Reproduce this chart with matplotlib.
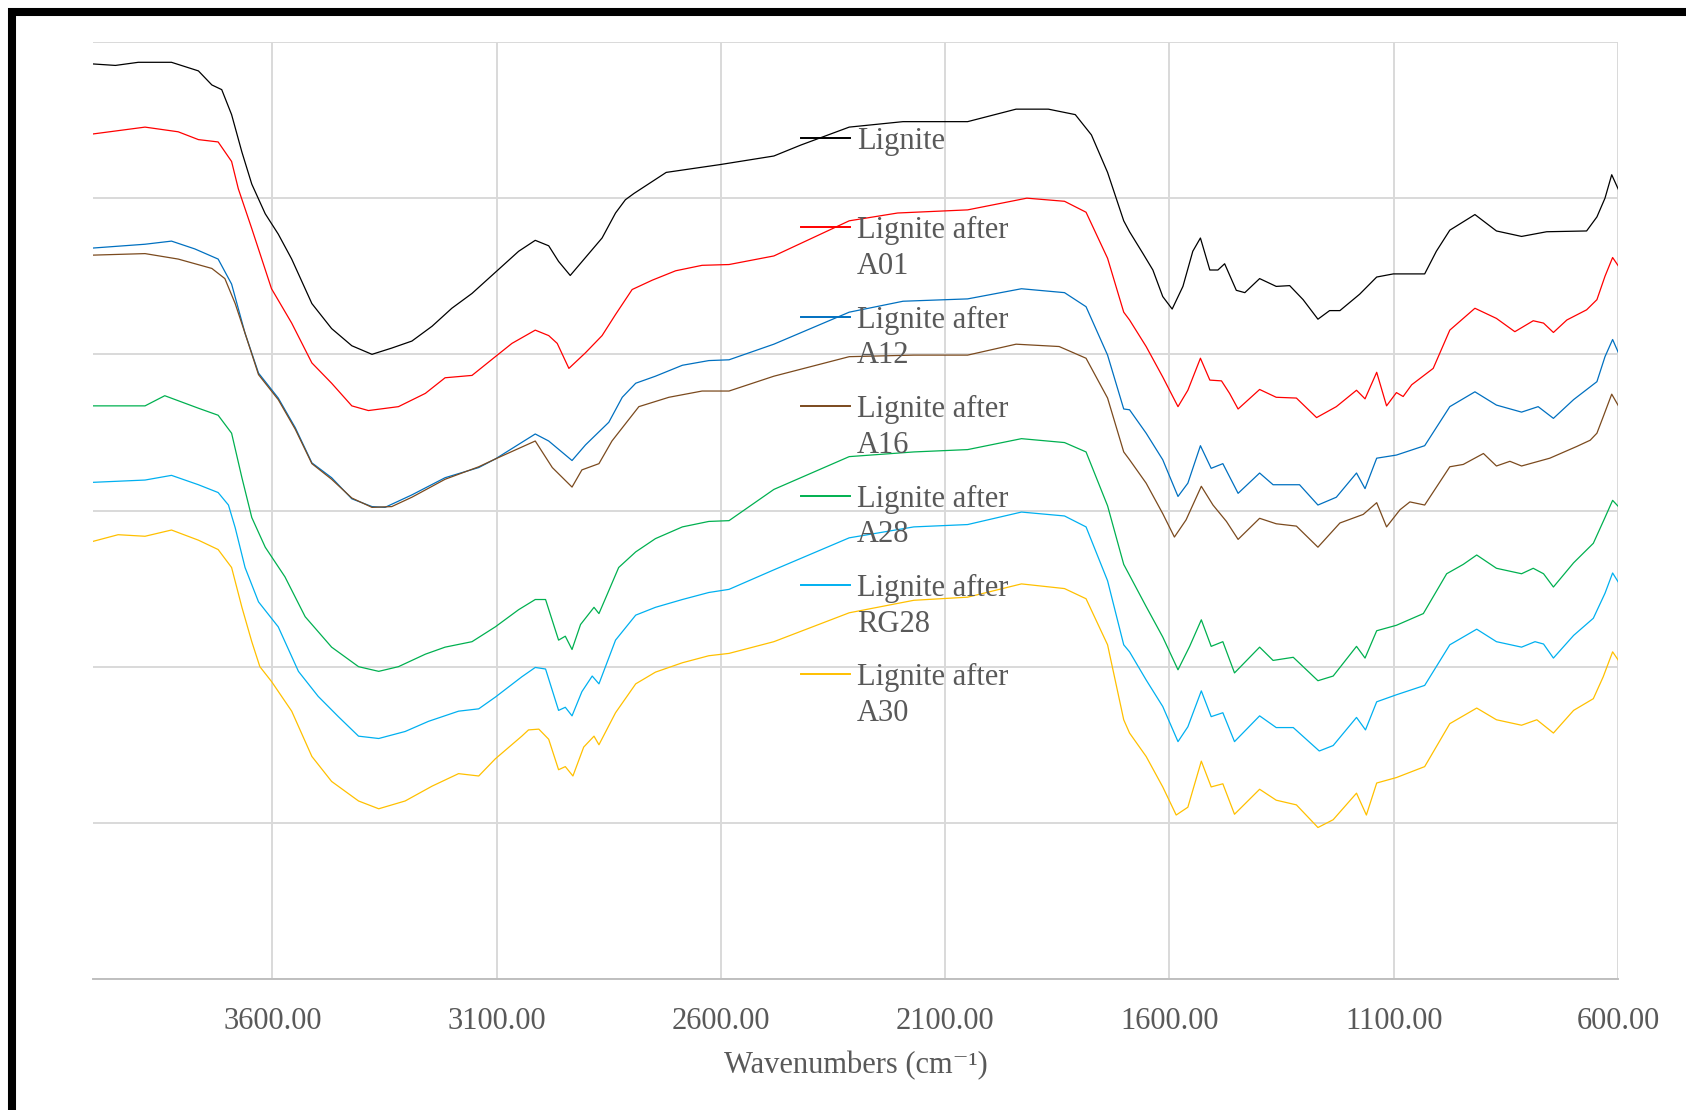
#!/usr/bin/env python3

import numpy as np
import matplotlib
matplotlib.use('Agg')
import matplotlib.pyplot as plt
import matplotlib.patches

# FTIR spectra, values (y = arbitrary transmittance units)
lignite_wn = [4003, 3950, 3899, 3825, 3765, 3735, 3713, 3691, 3668, 3646, 3616, 3587, 3557, 3512, 3468,
              3423, 3378, 3334, 3289, 3244, 3200, 3155, 3103, 3051, 3014, 2984, 2962, 2936, 2902, 2865,
              2835, 2813, 2794, 2722, 2602, 2482, 2422, 2314, 2194, 2050, 1942, 1870, 1810, 1774, 1738,
              1702, 1689, 1659, 1637, 1615, 1594, 1570, 1548, 1531, 1510, 1492, 1477, 1451, 1432, 1399,
              1362, 1332, 1302, 1269, 1243, 1220, 1176, 1138, 1101, 1031, 1005, 975, 919, 871, 815, 759,
              670, 647, 629, 614, 599]
lignite = [117.2, 117.0, 117.4, 117.4, 116.3, 114.5, 113.9, 110.7, 105.9, 101.8, 98.0, 95.4, 92.2, 86.5, 83.3,
           81.1, 80.0, 80.8, 81.7, 83.6, 85.9, 87.8, 90.5, 93.2, 94.6, 93.9, 91.9, 90.1, 92.4, 94.9,
           98.1, 99.8, 100.6, 103.3, 104.3, 105.4, 106.8, 109.1, 109.8, 109.8, 111.4, 111.4, 110.7, 108.1, 103.3,
           97.1, 95.7, 92.9, 90.8, 87.4, 85.8, 88.7, 93.2, 94.9, 90.8, 90.8, 91.6, 88.2, 87.9, 89.7,
           88.7, 88.8, 87.0, 84.5, 85.6, 85.6, 87.7, 89.9, 90.3, 90.3, 93.2, 95.9, 97.9, 95.8, 95.1, 95.7,
           95.8, 97.6, 100.0, 103.0, 101.1]

a01_wn = [4003, 3884, 3810, 3765, 3721, 3691, 3676, 3646, 3602, 3557, 3512, 3468, 3423, 3386, 3319,
          3259, 3215, 3155, 3103, 3066, 3014, 2984, 2965, 2939, 2902, 2865, 2835, 2798, 2753, 2701,
          2642, 2582, 2482, 2314, 2206, 2050, 1918, 1834, 1786, 1738, 1702, 1689, 1652, 1615, 1581,
          1559, 1531, 1510, 1484, 1466, 1447, 1399, 1362, 1317, 1272, 1228, 1183, 1164, 1138, 1116,
          1094, 1079, 1060, 1012, 975, 919, 871, 830, 789, 766, 744, 714, 670, 647, 629, 612, 599]
a01 = [108.2, 109.1, 108.5, 107.5, 107.2, 104.7, 101.2, 96.1, 88.4, 84.0, 78.9, 76.3, 73.4, 72.8, 73.3,
       75.0, 77.0, 77.3, 79.7, 81.4, 83.1, 82.4, 81.4, 78.2, 80.2, 82.4, 85.1, 88.3, 89.5, 90.7,
       91.4, 91.5, 92.6, 97.1, 98.1, 98.5, 100.0, 99.6, 98.2, 92.3, 85.4, 84.4, 81.0, 77.1, 73.3,
       75.4, 79.5, 76.7, 76.6, 75.0, 73.0, 75.5, 74.5, 74.4, 71.9, 73.3, 75.4, 74.3, 77.7, 73.4,
       75.1, 74.6, 76.1, 78.2, 83.1, 85.9, 84.6, 82.9, 84.3, 84.0, 82.8, 84.4, 85.7, 87.0, 90.0, 92.4, 91.3]

a12_wn = [4003, 3884, 3825, 3773, 3721, 3691, 3661, 3631, 3587, 3549, 3512, 3468, 3423, 3378, 3349,
          3289, 3215, 3140, 3103, 3014, 2984, 2932, 2902, 2850, 2820, 2790, 2746, 2686, 2627, 2582,
          2482, 2314, 2194, 2050, 1930, 1834, 1786, 1738, 1702, 1689, 1652, 1615, 1581, 1559, 1531,
          1507, 1481, 1447, 1399, 1369, 1310, 1269, 1228, 1183, 1164, 1138, 1094, 1031, 975, 919,
          871, 815, 778, 744, 699, 647, 629, 612, 599]
a12 = [93.6, 94.1, 94.5, 93.5, 92.2, 89.0, 82.7, 77.6, 74.4, 70.6, 66.1, 64.2, 61.5, 60.5, 60.4,
       62.0, 64.2, 65.5, 66.6, 69.8, 68.9, 66.4, 68.4, 71.3, 74.5, 76.3, 77.2, 78.6, 79.2, 79.3,
       81.3, 85.4, 86.8, 87.1, 88.4, 87.9, 86.1, 79.9, 73.0, 72.9, 69.9, 66.5, 61.8, 63.5, 68.3,
       65.4, 66.0, 62.2, 64.8, 63.3, 63.3, 60.7, 61.7, 64.8, 62.8, 66.7, 67.1, 68.3, 73.3, 75.2,
       73.5, 72.6, 73.3, 71.8, 74.2, 76.5, 79.7, 81.9, 80.2]

a16_wn = [4003, 3884, 3810, 3735, 3706, 3683, 3661, 3631, 3587, 3549, 3512, 3468, 3423, 3378, 3334,
          3289, 3215, 3140, 3103, 3014, 2976, 2932, 2910, 2872, 2843, 2783, 2716, 2642, 2582, 2482,
          2314, 2170, 2050, 1942, 1846, 1786, 1738, 1702, 1689, 1652, 1615, 1589, 1563, 1529, 1503,
          1473, 1447, 1399, 1362, 1317, 1269, 1220, 1168, 1138, 1116, 1086, 1064, 1031, 975, 945,
          900, 871, 841, 815, 752, 692, 662, 647, 633, 614, 599]
a16 = [92.7, 92.9, 92.2, 91.0, 89.7, 86.5, 82.7, 77.4, 74.2, 70.4, 66.0, 64.0, 61.6, 60.4, 60.5,
       61.7, 64.0, 65.6, 66.6, 68.9, 65.5, 63.0, 65.2, 66.0, 68.9, 73.3, 74.5, 75.3, 75.3, 77.2,
       79.7, 79.9, 79.9, 81.3, 81.0, 79.5, 74.4, 67.5, 66.5, 63.5, 59.6, 56.6, 58.8, 63.1, 60.7,
       58.6, 56.3, 59.0, 58.3, 58.0, 55.3, 58.4, 59.5, 61.0, 57.9, 60.1, 61.1, 60.7, 65.6, 65.9,
       67.3, 65.7, 66.3, 65.7, 66.7, 68.2, 69.0, 69.9, 72.0, 74.9, 73.4]

a28_wn = [4003, 3884, 3840, 3765, 3721, 3691, 3668, 3646, 3616, 3572, 3527, 3468, 3408, 3363, 3319,
          3259, 3215, 3155, 3103, 3051, 3014, 2991, 2962, 2947, 2932, 2913, 2883, 2872, 2857, 2828,
          2790, 2746, 2686, 2627, 2582, 2482, 2314, 2170, 2050, 1930, 1834, 1786, 1738, 1702, 1689,
          1652, 1615, 1581, 1555, 1529, 1507, 1481, 1455, 1399, 1369, 1324, 1269, 1235, 1183, 1164,
          1138, 1094, 1034, 982, 945, 915, 871, 815, 789, 766, 744, 699, 655, 629, 612, 599]
a28 = [73.4, 73.4, 74.7, 73.1, 72.2, 69.9, 64.2, 59.1, 55.3, 51.5, 46.4, 42.5, 40.0, 39.4, 40.0,
       41.6, 42.5, 43.2, 45.1, 47.3, 48.6, 48.6, 43.4, 43.9, 42.2, 45.4, 47.6, 46.8, 48.8, 52.7,
       54.7, 56.4, 57.9, 58.6, 58.7, 62.7, 66.9, 67.5, 67.8, 69.2, 68.7, 67.5, 60.6, 53.1, 51.7,
       47.7, 43.8, 39.6, 42.6, 46.0, 42.6, 43.2, 39.2, 42.5, 40.8, 41.2, 38.2, 38.8, 42.6, 41.1,
       44.6, 45.3, 46.8, 51.9, 53.1, 54.3, 52.6, 51.9, 52.6, 51.9, 50.2, 53.3, 55.8, 59.1, 61.3, 60.5]

rg28_wn = [4003, 3884, 3825, 3765, 3721, 3698, 3683, 3661, 3631, 3587, 3542, 3498, 3453, 3408, 3363,
           3304, 3252, 3185, 3140, 3103, 3044, 3014, 2991, 2962, 2947, 2932, 2910, 2887, 2872, 2835,
           2790, 2746, 2686, 2627, 2582, 2482, 2314, 2170, 2050, 1930, 1834, 1786, 1738, 1702, 1689,
           1652, 1615, 1581, 1559, 1529, 1507, 1481, 1455, 1399, 1362, 1324, 1266, 1235, 1183, 1163,
           1138, 1094, 1031, 975, 915, 871, 815, 785, 766, 744, 699, 655, 629, 612, 599]
rg28 = [63.6, 63.9, 64.5, 63.3, 62.3, 60.7, 57.8, 52.7, 48.3, 45.1, 39.4, 36.2, 33.6, 31.1, 30.8,
        31.7, 33.0, 34.3, 34.6, 36.1, 38.7, 39.9, 39.7, 34.4, 34.8, 33.7, 36.8, 38.8, 37.8, 43.4,
        46.6, 47.6, 48.6, 49.5, 49.9, 52.4, 56.5, 57.9, 58.2, 59.8, 59.3, 57.9, 51.0, 42.8, 41.9,
        38.3, 34.9, 30.4, 32.3, 36.9, 33.6, 34.1, 30.4, 33.7, 32.2, 32.2, 29.2, 29.9, 33.5, 31.9,
        35.5, 36.4, 37.6, 42.8, 44.8, 43.2, 42.5, 43.2, 42.9, 41.1, 44.0, 46.2, 49.4, 52.0, 50.8]

a30_wn = [4003, 3944, 3884, 3825, 3765, 3721, 3691, 3668, 3646, 3628, 3602, 3557, 3512, 3468, 3408,
          3363, 3304, 3244, 3185, 3140, 3103, 3044, 3029, 3006, 2984, 2962, 2947, 2930, 2906, 2883,
          2872, 2835, 2790, 2746, 2686, 2627, 2582, 2482, 2314, 2170, 2050, 1930, 1834, 1786, 1738,
          1702, 1689, 1652, 1615, 1585, 1559, 1529, 1507, 1481, 1455, 1399, 1362, 1317, 1269, 1235,
          1183, 1161, 1138, 1094, 1031, 975, 915, 871, 815, 781, 744, 699, 655, 633, 612, 599]
a30 = [56.0, 56.9, 56.7, 57.5, 56.2, 55.0, 52.7, 47.6, 43.2, 40.0, 38.1, 34.3, 28.5, 25.3, 22.8,
       21.8, 22.8, 24.7, 26.3, 26.0, 28.2, 31.1, 31.9, 32.0, 30.7, 26.8, 27.2, 26.0, 29.7, 31.1,
       30.0, 34.1, 37.8, 39.3, 40.5, 41.4, 41.7, 43.2, 46.9, 48.5, 48.9, 50.6, 50.0, 48.7, 42.8,
       33.2, 31.5, 28.5, 24.6, 21.0, 22.0, 27.9, 24.6, 25.0, 21.1, 24.3, 22.9, 22.3, 19.4, 20.4,
       23.8, 21.0, 25.1, 25.8, 27.2, 32.7, 34.7, 33.2, 32.5, 33.2, 31.5, 34.4, 35.9, 38.7, 41.9, 40.8]

series = [
	(lignite_wn, lignite, 'Lignite', '#000000'),
	(a01_wn, a01, 'Lignite after\nA01', '#FF0000'),
	(a12_wn, a12, 'Lignite after\nA12', '#0070C0'),
	(a16_wn, a16, 'Lignite after\nA16', '#7B4A1E'),
	(a28_wn, a28, 'Lignite after\nA28', '#00B050'),
	(rg28_wn, rg28, 'Lignite after\nRG28', '#00B0F0'),
	(a30_wn, a30, 'Lignite after\nA30', '#FFC000'),
]

x_ticks = [3600, 3100, 2600, 2100, 1600, 1100, 600]

W, H = 1686, 1110
text_grey = '#595959'

plt.rcParams['font.family'] = ['Liberation Serif', 'DejaVu Serif']

fig = plt.figure(figsize=(W / 100, H / 100), dpi=100)
ax = fig.add_axes([93 / W, 1 - 979 / H, (1618 - 93) / W, (979 - 42) / H])

for wn, val, name, color in series :
	ax.plot(wn, val, color=color, lw=0.9)

ax.set_xlim(4000, 600)
ax.set_ylim(0, 120)
ax.set_xticks(x_ticks)
ax.set_xticklabels([f"{t:.2f}" for t in x_ticks])
ax.set_yticks(np.arange(0, 121, 20))
ax.set_yticklabels([])
ax.tick_params(axis='both', length=0, labelsize=22, labelcolor=text_grey, pad=20)
ax.grid(True, color='#d9d9d9', lw=1.4)
ax.set_axisbelow(True)
for side in ('top', 'right', 'left') :
	ax.spines[side].set_visible(False)
ax.spines['bottom'].set_color('#bfbfbf')
ax.spines['bottom'].set_linewidth(1.4)

ax.set_xlabel('Wavenumbers (cm\u207b\u00b9)', fontsize=22, color=text_grey, labelpad=11)

# legend drawn by hand so the handle sits on the first text line, as in Excel
y_first, y_step, line_gap = 138, 89.4, 35.5
for i, (wn, val, name, color) in enumerate(series) :
	y = y_first + i * y_step
	fig.add_artist(matplotlib.lines.Line2D([801 / W, 850 / W], [1 - y / H, 1 - y / H], color=color, lw=1.4))
	for j, part in enumerate(name.split('\n')) :
		fig.text(857 / W, 1 - (y + j * line_gap) / H, part, fontsize=22, color=text_grey,
		         ha='left', va='center_baseline')

# thick black frame around the picture, cut off at the right and bottom
fig.add_artist(matplotlib.patches.Rectangle(
	(12 / W, 1 - 1112.5 / H), (1720 - 12) / W, (1112.5 - 12) / H,
	transform=fig.transFigure, fill=False, edgecolor='black', lw=5.8, clip_on=False
))

fig.savefig('out.png', dpi=100)
